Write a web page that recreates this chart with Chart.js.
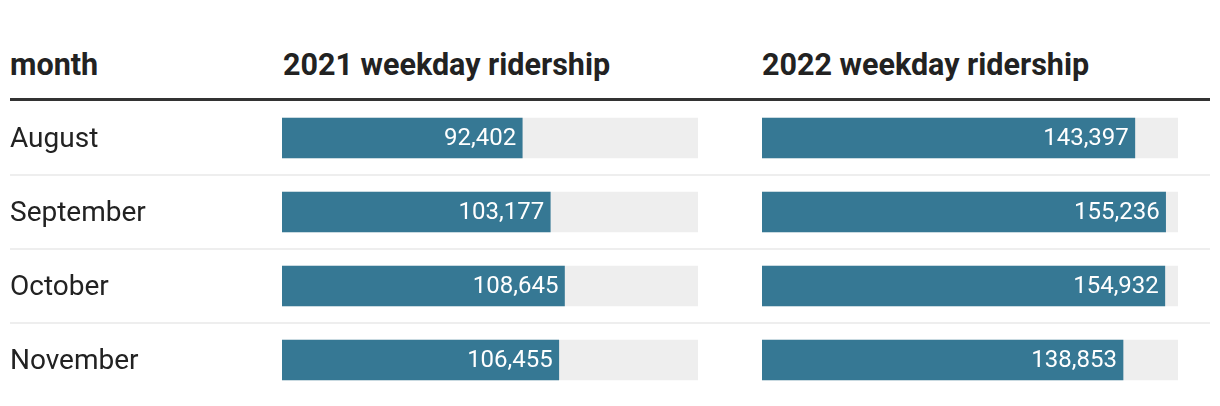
<!DOCTYPE html>
<html><head><meta charset="utf-8">
<script src="https://cdn.jsdelivr.net/npm/chart.js@4.4.1/dist/chart.umd.min.js"></script>
<style>
html,body{margin:0;padding:0;background:#fff;width:1220px;height:406px;overflow:hidden;font-family:Roboto,"Noto Sans",sans-serif;}
.h{position:absolute;top:49px;font-weight:700;font-size:30.5px;line-height:31px;color:#222;white-space:nowrap;}
.rule{position:absolute;left:10px;width:1200px;}
.box{position:absolute;top:101px;height:296px;}
</style></head><body>
<div class="h" id="h0" style="left:10px"></div>
<div class="h" id="h1" style="left:283px"></div>
<div class="h" id="h2" style="left:762px"></div>
<div class="rule" style="top:98px;height:3px;background:#333;"></div>
<div class="rule" style="top:174px;height:2px;background:#eeeeee;"></div>
<div class="rule" style="top:248px;height:2px;background:#eeeeee;"></div>
<div class="rule" style="top:322px;height:2px;background:#eeeeee;"></div>
<div class="box" style="left:10px;width:688px;"><canvas id="cA"></canvas></div>
<div class="box" style="left:762px;width:416px;"><canvas id="cB"></canvas></div>
<script>
const headers = ['month', '2021 weekday ridership', '2022 weekday ridership'];
const months = ['August', 'September', 'October', 'November'];
const ridership2021 = [92402, 103177, 108645, 106455];
const ridership2022 = [143397, 155236, 154932, 138853];
const scaleMax = 160000;

const barColor = '#367894';
const trackColor = '#eeeeee';

headers.forEach((t, i) => { document.getElementById('h' + i).textContent = t; });

const valueLabels = {
  id: 'valueLabels',
  afterDatasetsDraw(chart) {
    const ctx = chart.ctx;
    const meta = chart.getDatasetMeta(0);
    const vals = chart.data.datasets[0].data;
    ctx.save();
    ctx.font = '24px Roboto';
    ctx.fillStyle = '#ffffff';
    ctx.textAlign = 'right';
    ctx.textBaseline = 'middle';
    meta.data.forEach((bar, i) => {
      ctx.fillText(vals[i].toLocaleString('en-US'), bar.x - 6, bar.y + 1);
    });
    ctx.restore();
  }
};

function makeChart(id, values, showLabels) {
  const track = months.map(() => scaleMax);
  return new Chart(document.getElementById(id), {
    type: 'bar',
    data: {
      labels: months,
      datasets: [
        { data: values, backgroundColor: barColor, barThickness: 40, grouped: false, order: 0 },
        { data: track, backgroundColor: trackColor, barThickness: 40, grouped: false, order: 1 }
      ]
    },
    options: {
      indexAxis: 'y',
      responsive: true,
      maintainAspectRatio: false,
      animation: false,
      events: [],
      layout: { padding: 0 },
      plugins: { legend: { display: false }, tooltip: { enabled: false } },
      scales: {
        x: { display: false, min: 0, max: scaleMax },
        y: {
          display: showLabels,
          grid: { display: false },
          border: { display: false },
          ticks: { crossAlign: 'far', padding: 0, labelOffset: 2, color: '#222', font: { family: 'Roboto', size: 28 } },
          afterFit(s) {
            s.paddingTop = 0; s.paddingBottom = 0;
            s.width = showLabels ? 272 : 0;
          }
        }
      }
    },
    plugins: [valueLabels]
  });
}

function init() {
  makeChart('cA', ridership2021, true);
  makeChart('cB', ridership2022, false);
}
if (document.fonts && document.fonts.load) {
  Promise.all([document.fonts.load('28px Roboto'), document.fonts.load('24px Roboto'), document.fonts.load('bold 31px Roboto')]).then(init, init);
} else { init(); }
</script>
</body></html>
